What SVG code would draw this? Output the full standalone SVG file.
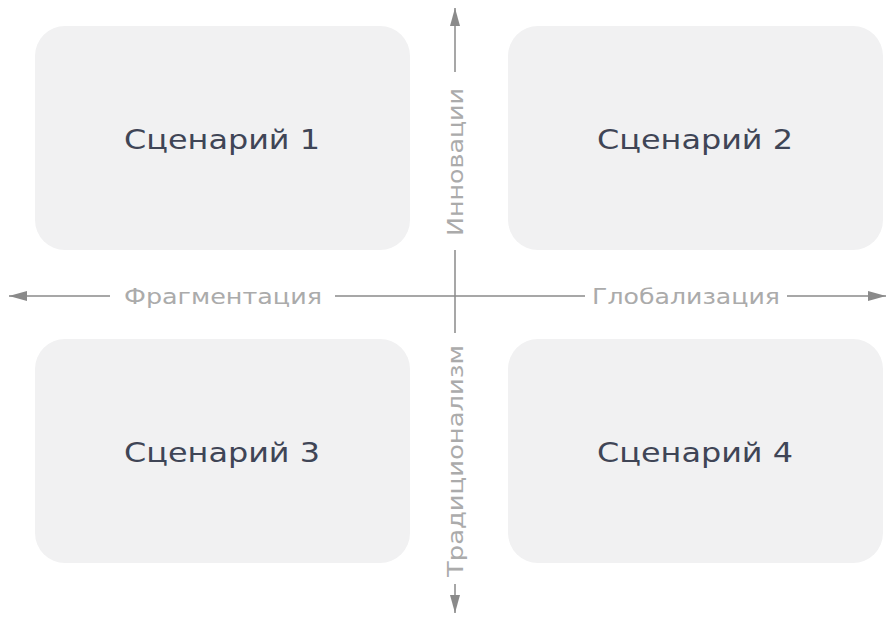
<svg xmlns="http://www.w3.org/2000/svg" width="891" height="620" viewBox="0 0 891 620">
<defs>
<marker id="ah" viewBox="0 0 18 10" refX="18" refY="5" markerWidth="18" markerHeight="10" markerUnits="userSpaceOnUse" orient="auto">
<path d="M0,0 L18,5 L0,10 Z" fill="#8a8a8a"/>
</marker>
<style>
.box{fill:#f1f1f2}
.t{font-family:"DejaVu Sans","Liberation Sans",sans-serif;font-size:27px;fill:#3f4556;text-anchor:middle;dominant-baseline:central}
.ax{stroke:#8a8a8a;stroke-width:1.5;fill:none}
.al{font-family:"DejaVu Sans","Liberation Sans",sans-serif;font-size:21px;fill:#ababab;text-anchor:middle;dominant-baseline:central}
</style>
</defs>
<rect width="891" height="620" fill="#ffffff"/>
<g id="node1"><rect class="box" x="35" y="26" width="375" height="224" rx="30"/><text class="t" x="222" y="139" textLength="196" lengthAdjust="spacingAndGlyphs">Сценарий 1</text></g>
<g id="node2"><rect class="box" x="508" y="26" width="375" height="224" rx="30"/><text class="t" x="695" y="139" textLength="196" lengthAdjust="spacingAndGlyphs">Сценарий 2</text></g>
<g id="node3"><rect class="box" x="35" y="339" width="375" height="224" rx="30"/><text class="t" x="222" y="452" textLength="196" lengthAdjust="spacingAndGlyphs">Сценарий 3</text></g>
<g id="node4"><rect class="box" x="508" y="339" width="375" height="224" rx="30"/><text class="t" x="695" y="452" textLength="196" lengthAdjust="spacingAndGlyphs">Сценарий 4</text></g>
<g id="connectors">
<line class="ax" x1="110" y1="296" x2="9" y2="296" marker-end="url(#ah)"/>
<line class="ax" x1="335" y1="296" x2="585" y2="296"/>
<line class="ax" x1="787" y1="296" x2="886" y2="296" marker-end="url(#ah)"/>
<line class="ax" x1="455" y1="72" x2="455" y2="8" marker-end="url(#ah)"/>
<line class="ax" x1="455" y1="250" x2="455" y2="333"/>
<line class="ax" x1="455" y1="584" x2="455" y2="613" marker-end="url(#ah)"/>
<text class="al" x="223" y="297" textLength="198" lengthAdjust="spacingAndGlyphs">Фрагментация</text>
<text class="al" x="686" y="297" textLength="188" lengthAdjust="spacingAndGlyphs">Глобализация</text>
<text class="al" transform="translate(456,162) rotate(-90)" textLength="148" lengthAdjust="spacingAndGlyphs">Инновации</text>
<text class="al" transform="translate(456,461) rotate(-90)" textLength="232" lengthAdjust="spacingAndGlyphs">Традиционализм</text>
</g>
</svg>
